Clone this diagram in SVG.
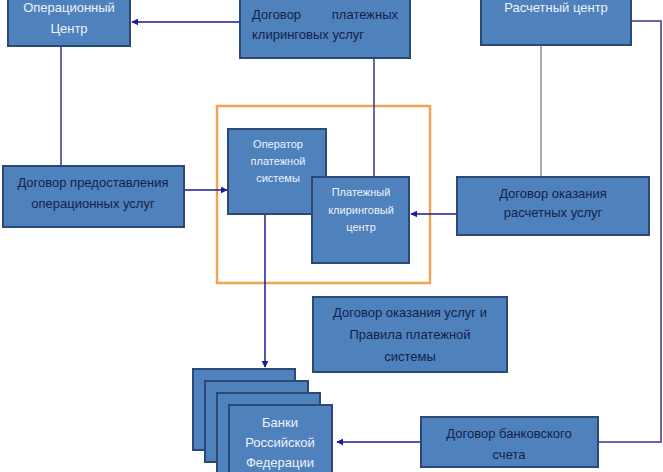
<svg xmlns="http://www.w3.org/2000/svg" width="663" height="472" viewBox="0 0 663 472">
<style>
.box{fill:#4f81bd;stroke:#2a4a75;stroke-width:2}
.wt{fill:#eef3fa;font-family:"Liberation Sans",Arial,sans-serif;font-size:13px;text-anchor:middle}
.ws{fill:#eef3fa;font-family:"Liberation Sans",Arial,sans-serif;font-size:11px;text-anchor:middle}
.dt{fill:#14224a;font-family:"Liberation Sans",Arial,sans-serif;font-size:13px;text-anchor:middle}
.ln{fill:none;stroke:#35358f;stroke-width:1.5}
.gl{fill:none;stroke:#8f8f9f;stroke-width:1.5}
.ar{fill:none;stroke:#1a1a9a;stroke-width:1.5;marker-end:url(#ah)}
</style>
<defs>
<marker id="ah" viewBox="0 0 10 10" refX="9" refY="5" markerWidth="7" markerHeight="7" orient="auto" markerUnits="userSpaceOnUse">
<path d="M0,0 L10,5 L0,10 z" fill="#1a1a9a"/>
</marker>
</defs>
<rect width="663" height="472" fill="#ffffff"/>
<rect x="217" y="106" width="213" height="177" fill="none" stroke="#f0a455" stroke-width="2.5"/>
<g id="connectors">
<path class="ln" d="M61,46 V166"/>
<path class="ar" d="M240,22 H132"/>
<path class="ln" d="M374,58 V178"/>
<path class="gl" d="M541,45 V177"/>
<path class="ln" d="M631,21 H661 V442 H598"/>
<path class="ar" d="M184,190 H227"/>
<path class="ar" d="M457,214 H411"/>
<path class="ar" d="M265,214 V367"/>
<path class="ar" d="M421,442 H337"/>
</g>
<g id="op-center">
<rect class="box" x="8" y="-5" width="122" height="51"/>
<text class="wt" x="69" y="12">Операционный</text>
<text class="wt" x="69" y="33">Центр</text>
</g>
<g id="clearing-contract">
<rect class="box" x="240" y="-5" width="170" height="63"/>
<text class="dt" x="252" y="19" style="text-anchor:start">Договор</text>
<text class="dt" x="398" y="19" style="text-anchor:end">платежных</text>
<text class="dt" x="252" y="39" style="text-anchor:start">клиринговых услуг</text>
</g>
<g id="settlement-center">
<rect class="box" x="481" y="-5" width="150" height="50"/>
<text class="wt" x="556" y="12">Расчетный центр</text>
</g>
<g id="op-contract">
<rect class="box" x="3" y="166" width="181" height="61"/>
<text class="dt" x="93" y="187">Договор предоставления</text>
<text class="dt" x="93" y="208">операционных услуг</text>
</g>
<g id="operator">
<rect class="box" x="228" y="129" width="98" height="85"/>
<text class="ws" x="278" y="148">Оператор</text>
<text class="ws" x="278" y="165">платежной</text>
<text class="ws" x="278" y="182">системы</text>
</g>
<g id="clearing-center">
<rect class="box" x="312" y="177" width="97" height="86"/>
<text class="ws" x="361" y="196">Платежный</text>
<text class="ws" x="361" y="214">клиринговый</text>
<text class="ws" x="361" y="231">центр</text>
</g>
<g id="settlement-contract">
<rect class="box" x="457" y="177" width="192" height="58"/>
<text class="dt" x="553" y="198">Договор оказания</text>
<text class="dt" x="553" y="217">расчетных услуг</text>
</g>
<g id="rules">
<rect class="box" x="313" y="297" width="194" height="75"/>
<text class="dt" x="410" y="317">Договор оказания услуг и</text>
<text class="dt" x="410" y="339">Правила платежной</text>
<text class="dt" x="410" y="361">системы</text>
</g>
<g id="banks">
<rect class="box" x="193" y="369" width="102" height="81"/>
<rect class="box" x="205" y="381" width="103" height="81"/>
<rect class="box" x="217" y="393" width="103" height="81"/>
<rect class="box" x="229" y="405" width="103" height="75"/>
<text class="wt" x="280" y="427">Банки</text>
<text class="wt" x="280" y="447">Российской</text>
<text class="wt" x="280" y="467">Федерации</text>
</g>
<g id="bank-contract">
<rect class="box" x="421" y="417" width="177" height="50"/>
<text class="dt" x="509" y="438">Договор банковского</text>
<text class="dt" x="509" y="459">счета</text>
</g>
</svg>
